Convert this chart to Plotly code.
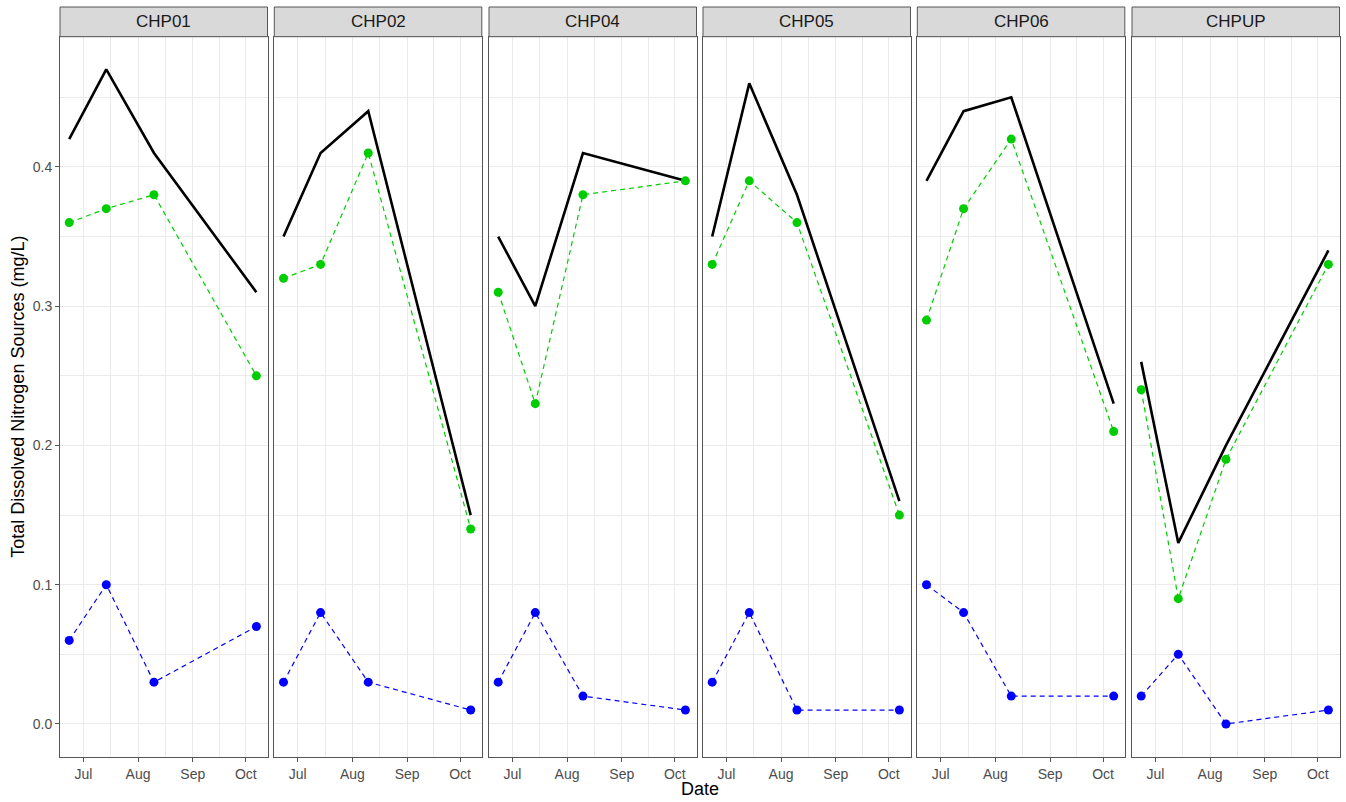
import plotly.graph_objects as go

# Sampling dates shared by every site
dates = ["2023-06-23", "2023-07-14", "2023-08-10", "2023-10-07"]
sites = ["CHP01", "CHP02", "CHP04", "CHP05", "CHP06", "CHPUP"]

# Total dissolved nitrogen (black solid line)
tdn = {
    "CHP01": [0.42, 0.47, 0.41, 0.31],
    "CHP02": [0.35, 0.41, 0.44, 0.15],
    "CHP04": [0.35, 0.30, 0.41, 0.39],
    "CHP05": [0.35, 0.46, 0.38, 0.16],
    "CHP06": [0.39, 0.44, 0.45, 0.23],
    "CHPUP": [0.26, 0.13, 0.20, 0.34],
}
# Nitrate + nitrite (green)
nox = {
    "CHP01": [0.36, 0.37, 0.38, 0.25],
    "CHP02": [0.32, 0.33, 0.41, 0.14],
    "CHP04": [0.31, 0.23, 0.38, 0.39],
    "CHP05": [0.33, 0.39, 0.36, 0.15],
    "CHP06": [0.29, 0.37, 0.42, 0.21],
    "CHPUP": [0.24, 0.09, 0.19, 0.33],
}
# Ammonium (blue)
nh4 = {
    "CHP01": [0.06, 0.10, 0.03, 0.07],
    "CHP02": [0.03, 0.08, 0.03, 0.01],
    "CHP04": [0.03, 0.08, 0.02, 0.01],
    "CHP05": [0.03, 0.08, 0.01, 0.01],
    "CHP06": [0.10, 0.08, 0.02, 0.02],
    "CHPUP": [0.02, 0.05, 0.00, 0.01],
}

y_ticks = [0.0, 0.1, 0.2, 0.3, 0.4]
y_tick_text = ["0.0", "0.1", "0.2", "0.3", "0.4"]
x_ticks = ["2023-07-01", "2023-08-01", "2023-09-01", "2023-10-01"]
x_tick_text = ["Jul", "Aug", "Sep", "Oct"]
x_minor = ["2023-07-16 12:00", "2023-08-16 12:00", "2023-09-16"]
y_minor = [0.05, 0.15, 0.25, 0.35, 0.45]

W, H = 1346, 802
panel_left = [60.0, 274.3, 489.0, 703.0, 917.3, 1132.0]
panel_w = 207.5
plot_top, plot_bottom = 36.7, 756.7
strip_top = 7.0

GREEN = "#00CD00"
BLUE = "#0000FF"
BORDER = "#555555"
FONT = "Liberation Sans, Arial, sans-serif"

fig = go.Figure()
layout = dict(
    width=W, height=H,
    margin=dict(l=0, r=0, t=0, b=0),
    paper_bgcolor="white", plot_bgcolor="white",
    showlegend=False,
    font=dict(family=FONT, size=14, color="#4D4D4D"),
)

shapes, annotations = [], []
ydom = [1 - plot_bottom / H, 1 - plot_top / H]

for i, site in enumerate(sites):
    n = i + 1
    xa = "x" if n == 1 else f"x{n}"
    ya = "y" if n == 1 else f"y{n}"
    x0 = panel_left[i] / W
    x1 = (panel_left[i] + panel_w) / W

    fig.add_trace(go.Scatter(
        x=dates, y=tdn[site], mode="lines",
        line=dict(color="black", width=2.6),
        xaxis=xa, yaxis=ya, hoverinfo="skip"))
    fig.add_trace(go.Scatter(
        x=dates, y=nox[site], mode="lines+markers",
        line=dict(color=GREEN, width=1.2, dash="5px,4px"),
        marker=dict(color=GREEN, size=9),
        xaxis=xa, yaxis=ya))
    fig.add_trace(go.Scatter(
        x=dates, y=nh4[site], mode="lines+markers",
        line=dict(color=BLUE, width=1.2, dash="5px,4px"),
        marker=dict(color=BLUE, size=9),
        xaxis=xa, yaxis=ya))

    layout["xaxis" if n == 1 else f"xaxis{n}"] = dict(
        domain=[x0, x1], anchor=ya, type="date",
        range=["2023-06-17 19:00", "2023-10-13 07:00"],
        tickmode="array", tickvals=x_ticks, ticktext=x_tick_text,
        ticks="outside", ticklen=4, tickcolor=BORDER, tickwidth=1,
        showgrid=True, gridcolor="#EBEBEB", gridwidth=1,
        minor=dict(tickmode="array", tickvals=x_minor, showgrid=True,
                   gridcolor="#EBEBEB", gridwidth=0.6, ticks=""),
        showline=True, linecolor=BORDER, linewidth=1, mirror=True,
        zeroline=False, tickfont=dict(size=14, color="#4D4D4D"),
    )
    layout["yaxis" if n == 1 else f"yaxis{n}"] = dict(
        domain=ydom, anchor=xa,
        range=[-0.0235, 0.4935],
        tickmode="array", tickvals=y_ticks, ticktext=y_tick_text,
        showticklabels=(n == 1),
        ticks="outside" if n == 1 else "", ticklen=4,
        tickcolor=BORDER, tickwidth=1,
        showgrid=True, gridcolor="#EBEBEB", gridwidth=1,
        minor=dict(tickmode="array", tickvals=y_minor, showgrid=True,
                   gridcolor="#EBEBEB", gridwidth=0.6, ticks=""),
        showline=True, linecolor=BORDER, linewidth=1, mirror=True,
        zeroline=False, tickfont=dict(size=14, color="#4D4D4D"),
    )

    # facet strip
    shapes.append(dict(
        type="rect", xref="paper", yref="paper",
        x0=x0, x1=x1, y0=1 - plot_top / H, y1=1 - strip_top / H,
        fillcolor="#D9D9D9", line=dict(color=BORDER, width=1),
        layer="above"))
    annotations.append(dict(
        text=site, xref="paper", yref="paper",
        x=(x0 + x1) / 2, y=1 - (plot_top + strip_top) / 2 / H,
        xanchor="center", yanchor="middle", showarrow=False,
        font=dict(family=FONT, size=17, color="#1A1A1A")))

annotations.append(dict(
    text="Date", xref="paper", yref="paper",
    x=(60 + 1339.3) / 2 / W, y=1 - 789 / H,
    xanchor="center", yanchor="middle", showarrow=False,
    font=dict(family=FONT, size=18, color="black")))
annotations.append(dict(
    text="Total Dissolved Nitrogen Sources (mg/L)", xref="paper", yref="paper",
    x=18 / W, y=1 - (plot_top + plot_bottom) / 2 / H, textangle=-90,
    xanchor="center", yanchor="middle", showarrow=False,
    font=dict(family=FONT, size=18, color="black")))

layout["shapes"] = shapes
layout["annotations"] = annotations
fig.update_layout(**layout)
fig.write_html("out.html")
